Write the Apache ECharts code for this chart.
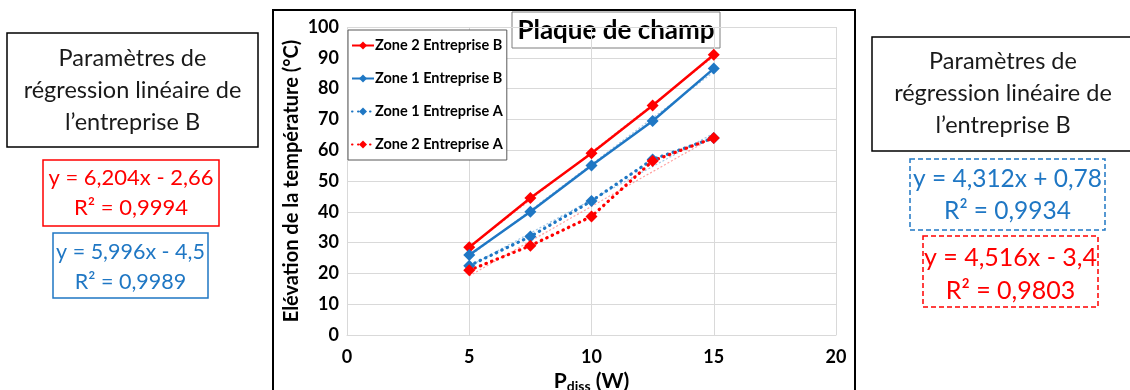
<!DOCTYPE html>
<html>
<head>
<meta charset="utf-8">
<script src="https://cdn.jsdelivr.net/npm/echarts@6/dist/echarts.min.js"></script>
<style>
  html, body { margin: 0; padding: 0; background: #ffffff; }
  #chart { width: 1130px; height: 390px; }
</style>
</head>
<body>
<div id="chart"></div>
<script>
// Dissipated power (W)
const powers = [5, 7.5, 10, 12.5, 15];

// Temperature rise (°C) per zone and company
const zone2B = [28.5, 44.5, 59, 74.5, 91];
const zone1B = [26, 40, 55, 69.5, 86.5];
const zone1A = [22.5, 32, 43.5, 57, 64];
const zone2A = [21, 29, 38.5, 56.5, 64];

// Linear trend lines (end points at 5 W and 15 W)
const trendZone2B = [[5, 28.4], [15, 90.4]];
const trendZone1B = [[5, 25.5], [15, 85.4]];
const trendZone1A = [[5, 22.3], [15, 65.5]];
const trendZone2A = [[5, 19.2], [15, 64.3]];

// Axis ticks
const xTicks = [0, 5, 10, 15, 20];
const yTicks = [0, 10, 20, 30, 40, 50, 60, 70, 80, 90, 100];

// Regression parameter boxes
const boxTitleLines = ['Paramètres de', 'régression linéaire de', 'l\u2019entreprise B'];
const eqZone2B = ['y = 6,204x - 2,66', 'R\u00b2 = 0,9994'];
const eqZone1B = ['y = 5,996x - 4,5', 'R\u00b2 = 0,9989'];
const eqZone1A = ['y = 4,312x + 0,78', 'R\u00b2 = 0,9934'];
const eqZone2A = ['y = 4,516x - 3,4', 'R\u00b2 = 0,9803'];

const RED = '#ff0000';
const BLUE = '#1f77c4';
const FONT = 'Lato, "Open Sans", sans-serif';

const pairs = (ys) => powers.map((x, i) => [x, ys[i]]);

function dataSeries(name, ys, color, dotted) {
  return {
    name: name,
    type: 'line',
    data: pairs(ys),
    symbol: 'diamond',
    symbolSize: 12,
    z: 5,
    itemStyle: { color: color },
    lineStyle: dotted
      ? { color: color, width: 3.2, type: [0.5, 5.5], cap: 'round' }
      : { color: color, width: 2.5 },
    emphasis: { disabled: true }
  };
}

function trendSeries(points, color) {
  return {
    type: 'line',
    data: points,
    symbol: 'none',
    silent: true,
    z: 3,
    lineStyle: { color: color, width: 1.2, type: [2, 2], opacity: 0.75 }
  };
}

// Text block: bordered rectangle with centred lines
function textBox(x, y, w, h, lines, color, dashed, lineH, fontSize, startY) {
  const children = [{
    type: 'rect',
    shape: { x: 0, y: 0, width: w, height: h },
    style: {
      fill: '#ffffff',
      stroke: color,
      lineWidth: 1.5,
      lineDash: dashed ? [5, 3] : null
    }
  }];
  lines.forEach((t, i) => {
    children.push({
      type: 'text',
      x: w / 2,
      y: startY + i * lineH,
      style: {
        text: t,
        fill: color === '#000' ? '#1a1a1a' : color,
        font: fontSize + 'px ' + FONT,
        textAlign: 'center',
        textVerticalAlign: 'middle'
      }
    });
  });
  return { type: 'group', x: x, y: y, children: children };
}

const chart = echarts.init(document.getElementById('chart'), null, { renderer: 'canvas' });

chart.setOption({
  animation: false,
  backgroundColor: '#ffffff',
  textStyle: { fontFamily: FONT },
  grid: { left: 347, right: 294, top: 27, bottom: 55, containLabel: false, outerBoundsMode: 'none' },
  xAxis: {
    type: 'value',
    min: xTicks[0],
    max: xTicks[xTicks.length - 1],
    interval: 5,
    axisLine: { show: true, lineStyle: { color: '#d9d9d9' } },
    axisTick: { show: false },
    splitLine: { show: true, lineStyle: { color: '#d9d9d9', width: 1 } },
    axisLabel: { color: '#000', fontWeight: 'bold', fontSize: 18, margin: 13, fontFamily: FONT },
    name: '{p|P}{s|diss}{p| (W)}',
    nameLocation: 'middle',
    nameGap: 33,
    nameTextStyle: {
      rich: {
        p: { fontWeight: 'bold', fontSize: 21, color: '#000', fontFamily: FONT },
        s: { fontWeight: 'bold', fontSize: 14, color: '#000', fontFamily: FONT, verticalAlign: 'bottom', padding: [10, 0, 0, 0] }
      }
    }
  },
  yAxis: {
    type: 'value',
    min: yTicks[0],
    max: yTicks[yTicks.length - 1],
    interval: 10,
    axisLine: { show: false },
    axisTick: { show: false },
    splitLine: { show: true, lineStyle: { color: '#d9d9d9', width: 1 } },
    axisLabel: { color: '#000', fontWeight: 'bold', fontSize: 18, margin: 8, fontFamily: FONT },
    name: 'Elévation de la température (°C)',
    nameLocation: 'middle',
    nameGap: 45,
    nameTextStyle: { color: '#000', fontWeight: 'bold', fontSize: 20, fontFamily: FONT }
  },
  legend: {
    orient: 'vertical',
    left: 348,
    top: 30,
    data: ['Zone 2 Entreprise B', 'Zone 1 Entreprise B', 'Zone 1 Entreprise A', 'Zone 2 Entreprise A'],
    backgroundColor: '#ffffff',
    borderColor: '#595959',
    borderWidth: 1,
    padding: [8, 4, 8, 3],
    itemGap: 18,
    itemWidth: 22,
    itemHeight: 10,
    textStyle: { color: '#000', fontWeight: 'bold', fontSize: 14.5, fontFamily: FONT, padding: [0, 0, 0, -4] },
    selectedMode: false,
    z: 10
  },
  series: [
    trendSeries(trendZone2B, '#ff8080'),
    trendSeries(trendZone1B, '#7fb3de'),
    trendSeries(trendZone1A, '#7fb3de'),
    trendSeries(trendZone2A, '#ff8080'),
    dataSeries('Zone 2 Entreprise B', zone2B, RED, false),
    dataSeries('Zone 1 Entreprise B', zone1B, BLUE, false),
    dataSeries('Zone 1 Entreprise A', zone1A, BLUE, true),
    dataSeries('Zone 2 Entreprise A', zone2A, RED, true)
  ],
  graphic: [
    // chart frame
    {
      type: 'rect', z: 0, silent: true,
      shape: { x: 273, y: 10, width: 582, height: 420 },
      style: { fill: 'none', stroke: '#000', lineWidth: 2 }
    },
    // chart title
    {
      type: 'group', x: 512, y: 12, z: 20,
      children: [
        { type: 'rect', shape: { x: 0, y: 0, width: 208, height: 36 },
          style: { fill: '#ffffff', stroke: '#7f7f7f', lineWidth: 1 } },
        { type: 'text', x: 104, y: 19,
          style: { text: 'Plaque de champ', fill: '#000', font: 'bold 26px ' + FONT,
                   textAlign: 'center', textVerticalAlign: 'middle' } }
      ]
    },
    // left side: company B, solid lines
    textBox(7, 33, 251, 114, boxTitleLines, '#000', false, 32, 23.5, 25),
    textBox(43, 160, 176, 66, eqZone2B, RED, false, 30, 22, 18),
    textBox(53, 233, 155, 65, eqZone1B, BLUE, false, 30, 21.5, 19),
    // right side: dotted series
    textBox(872, 37, 262, 114, boxTitleLines, '#000', false, 32, 23.5, 24),
    textBox(910, 159, 195, 71, eqZone1A, BLUE, true, 32, 24.5, 20),
    textBox(923, 236, 175, 71, eqZone2A, RED, true, 33, 25, 22)
  ]
});
</script>
</body>
</html>
